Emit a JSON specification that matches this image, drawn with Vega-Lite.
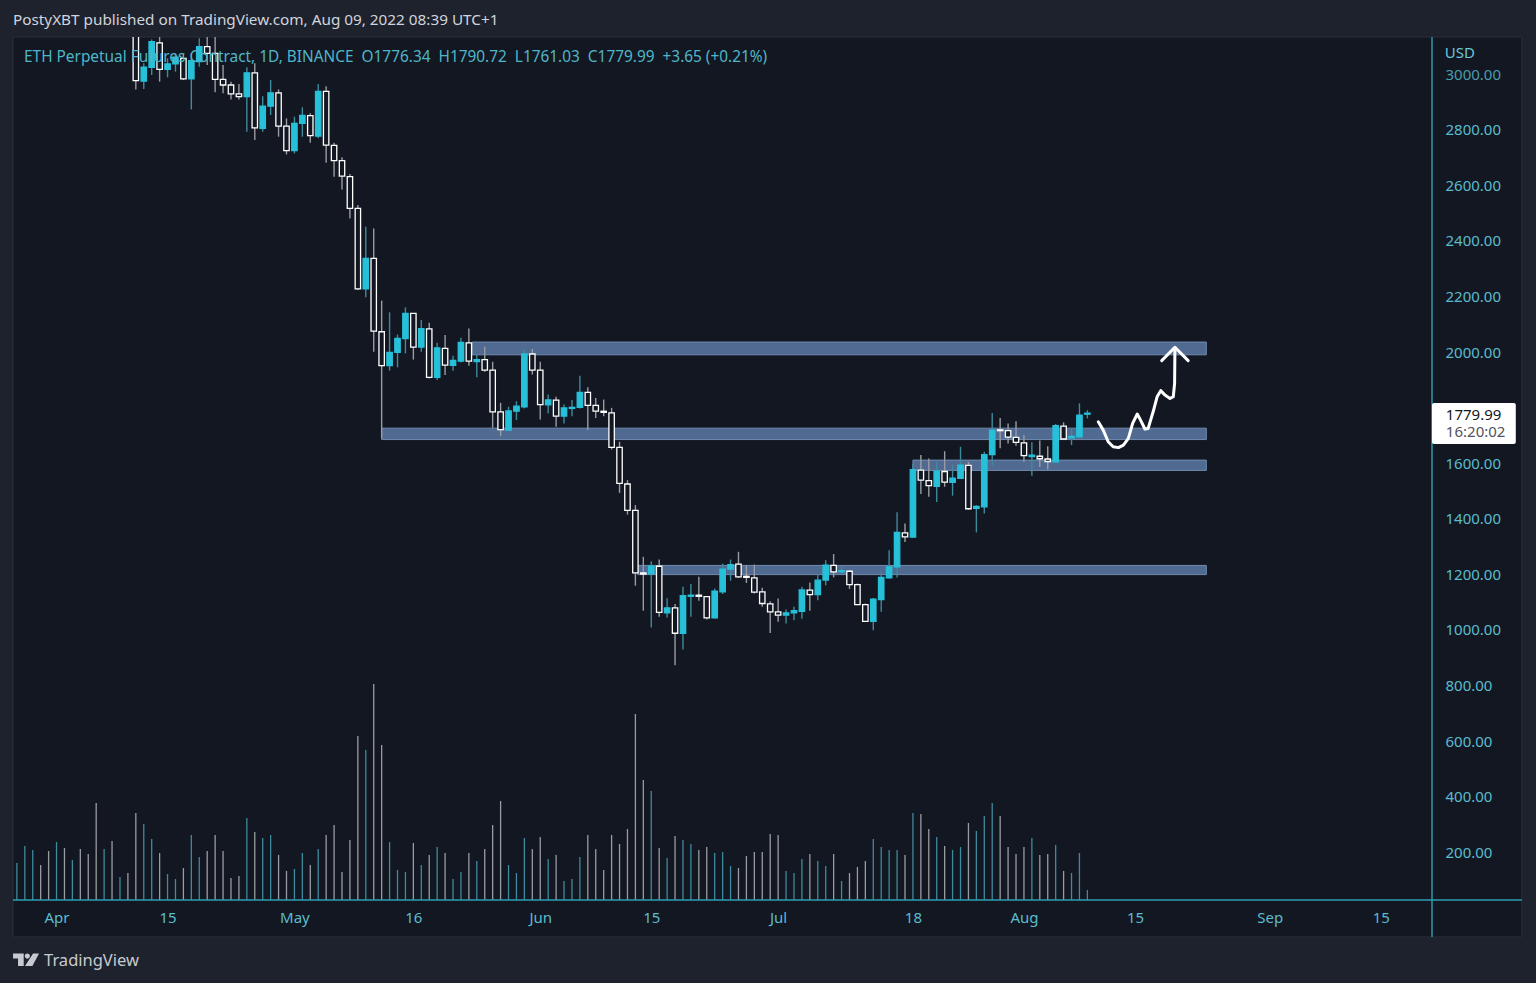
{
  "$schema": "https://vega.github.io/schema/vega-lite/v6.json",
  "width": 1419,
  "height": 863,
  "autosize": {"type": "none"},
  "padding": {"left": 13, "top": 37, "right": 104, "bottom": 83},
  "background": "#1e222d",
  "view": {"stroke": null},
  "config": {"font": "Noto Sans"},
  "datasets": {
    "candles": [
      {"date":"2022-03-27","open":3150,"high":3300,"low":3145,"close":3290,"volume":37,"dir":"up"},
      {"date":"2022-03-28","open":3290,"high":3480,"low":3280,"close":3330,"volume":54,"dir":"up"},
      {"date":"2022-03-29","open":3330,"high":3440,"low":3320,"close":3400,"volume":50,"dir":"up"},
      {"date":"2022-03-30","open":3400,"high":3440,"low":3340,"close":3385,"volume":35,"dir":"down"},
      {"date":"2022-03-31","open":3385,"high":3440,"low":3270,"close":3280,"volume":49,"dir":"down"},
      {"date":"2022-04-01","open":3280,"high":3480,"low":3210,"close":3455,"volume":58,"dir":"up"},
      {"date":"2022-04-02","open":3455,"high":3530,"low":3430,"close":3445,"volume":52,"dir":"down"},
      {"date":"2022-04-03","open":3445,"high":3570,"low":3420,"close":3520,"volume":40,"dir":"up"},
      {"date":"2022-04-04","open":3520,"high":3540,"low":3400,"close":3510,"volume":51,"dir":"down"},
      {"date":"2022-04-05","open":3510,"high":3550,"low":3400,"close":3410,"volume":46,"dir":"down"},
      {"date":"2022-04-06","open":3410,"high":3420,"low":3150,"close":3170,"volume":97,"dir":"down"},
      {"date":"2022-04-07","open":3170,"high":3290,"low":3160,"close":3230,"volume":51,"dir":"up"},
      {"date":"2022-04-08","open":3230,"high":3300,"low":3180,"close":3190,"volume":59,"dir":"down"},
      {"date":"2022-04-09","open":3190,"high":3270,"low":3185,"close":3260,"volume":23,"dir":"up"},
      {"date":"2022-04-10","open":3260,"high":3300,"low":3185,"close":3200,"volume":27,"dir":"down"},
      {"date":"2022-04-11","open":3200,"high":3210,"low":2945,"close":2977,"volume":87,"dir":"down"},
      {"date":"2022-04-12","open":2975,"high":3039,"low":2947,"close":3025,"volume":76,"dir":"up"},
      {"date":"2022-04-13","open":3025,"high":3125,"low":2997,"close":3117,"volume":61,"dir":"up"},
      {"date":"2022-04-14","open":3113,"high":3145,"low":2973,"close":3017,"volume":47,"dir":"down"},
      {"date":"2022-04-15","open":3017,"high":3057,"low":2989,"close":3037,"volume":26,"dir":"up"},
      {"date":"2022-04-16","open":3037,"high":3075,"low":3009,"close":3061,"volume":21,"dir":"up"},
      {"date":"2022-04-17","open":3057,"high":3073,"low":2979,"close":2983,"volume":32,"dir":"down"},
      {"date":"2022-04-18","open":2983,"high":3075,"low":2873,"close":3049,"volume":65,"dir":"up"},
      {"date":"2022-04-19","open":3045,"high":3129,"low":3027,"close":3099,"volume":43,"dir":"up"},
      {"date":"2022-04-20","open":3099,"high":3180,"low":3033,"close":3075,"volume":49,"dir":"down"},
      {"date":"2022-04-21","open":3075,"high":3180,"low":2935,"close":2981,"volume":65,"dir":"down"},
      {"date":"2022-04-22","open":2981,"high":3033,"low":2931,"close":2961,"volume":49,"dir":"down"},
      {"date":"2022-04-23","open":2961,"high":2973,"low":2909,"close":2929,"volume":22,"dir":"down"},
      {"date":"2022-04-24","open":2929,"high":2965,"low":2909,"close":2919,"volume":24,"dir":"down"},
      {"date":"2022-04-25","open":2919,"high":3025,"low":2793,"close":3005,"volume":82,"dir":"up"},
      {"date":"2022-04-26","open":3005,"high":3039,"low":2763,"close":2807,"volume":68,"dir":"down"},
      {"date":"2022-04-27","open":2805,"high":2921,"low":2793,"close":2885,"volume":62,"dir":"up"},
      {"date":"2022-04-28","open":2885,"high":2979,"low":2853,"close":2933,"volume":65,"dir":"up"},
      {"date":"2022-04-29","open":2933,"high":2945,"low":2775,"close":2813,"volume":45,"dir":"down"},
      {"date":"2022-04-30","open":2813,"high":2841,"low":2711,"close":2725,"volume":29,"dir":"down"},
      {"date":"2022-05-01","open":2725,"high":2847,"low":2715,"close":2823,"volume":31,"dir":"up"},
      {"date":"2022-05-02","open":2823,"high":2881,"low":2775,"close":2852,"volume":47,"dir":"up"},
      {"date":"2022-05-03","open":2851,"high":2859,"low":2753,"close":2779,"volume":35,"dir":"down"},
      {"date":"2022-05-04","open":2777,"high":2965,"low":2769,"close":2938,"volume":51,"dir":"up"},
      {"date":"2022-05-05","open":2938,"high":2957,"low":2681,"close":2745,"volume":65,"dir":"down"},
      {"date":"2022-05-06","open":2744,"high":2753,"low":2631,"close":2689,"volume":75,"dir":"down"},
      {"date":"2022-05-07","open":2689,"high":2701,"low":2585,"close":2633,"volume":28,"dir":"down"},
      {"date":"2022-05-08","open":2631,"high":2641,"low":2481,"close":2517,"volume":60,"dir":"down"},
      {"date":"2022-05-09","open":2517,"high":2529,"low":2223,"close":2227,"volume":164,"dir":"down"},
      {"date":"2022-05-10","open":2227,"high":2451,"low":2197,"close":2337,"volume":150,"dir":"up"},
      {"date":"2022-05-11","open":2337,"high":2445,"low":2001,"close":2075,"volume":216,"dir":"down"},
      {"date":"2022-05-12","open":2073,"high":2185,"low":1689,"close":1951,"volume":155,"dir":"down"},
      {"date":"2022-05-13","open":1951,"high":2143,"low":1933,"close":1999,"volume":58,"dir":"up"},
      {"date":"2022-05-14","open":1999,"high":2063,"low":1945,"close":2049,"volume":30,"dir":"up"},
      {"date":"2022-05-15","open":2048,"high":2161,"low":1995,"close":2139,"volume":28,"dir":"up"},
      {"date":"2022-05-16","open":2139,"high":2139,"low":1973,"close":2018,"volume":57,"dir":"down"},
      {"date":"2022-05-17","open":2018,"high":2115,"low":2001,"close":2084,"volume":35,"dir":"up"},
      {"date":"2022-05-18","open":2083,"high":2105,"low":1905,"close":1909,"volume":45,"dir":"down"},
      {"date":"2022-05-19","open":1909,"high":2033,"low":1899,"close":2015,"volume":53,"dir":"up"},
      {"date":"2022-05-20","open":2013,"high":2061,"low":1917,"close":1953,"volume":47,"dir":"down"},
      {"date":"2022-05-21","open":1952,"high":1987,"low":1933,"close":1970,"volume":21,"dir":"up"},
      {"date":"2022-05-22","open":1967,"high":2051,"low":1962,"close":2035,"volume":28,"dir":"up"},
      {"date":"2022-05-23","open":2033,"high":2085,"low":1951,"close":1967,"volume":47,"dir":"down"},
      {"date":"2022-05-24","open":1966,"high":1989,"low":1909,"close":1973,"volume":39,"dir":"up"},
      {"date":"2022-05-25","open":1973,"high":2019,"low":1929,"close":1935,"volume":51,"dir":"down"},
      {"date":"2022-05-26","open":1935,"high":1965,"low":1727,"close":1785,"volume":75,"dir":"down"},
      {"date":"2022-05-27","open":1785,"high":1817,"low":1697,"close":1721,"volume":99,"dir":"down"},
      {"date":"2022-05-28","open":1719,"high":1803,"low":1717,"close":1788,"volume":35,"dir":"up"},
      {"date":"2022-05-29","open":1787,"high":1823,"low":1755,"close":1805,"volume":27,"dir":"up"},
      {"date":"2022-05-30","open":1803,"high":2009,"low":1797,"close":1993,"volume":62,"dir":"up"},
      {"date":"2022-05-31","open":1993,"high":2011,"low":1919,"close":1935,"volume":51,"dir":"down"},
      {"date":"2022-06-01","open":1935,"high":1965,"low":1757,"close":1811,"volume":63,"dir":"down"},
      {"date":"2022-06-02","open":1810,"high":1847,"low":1779,"close":1828,"volume":41,"dir":"up"},
      {"date":"2022-06-03","open":1827,"high":1839,"low":1731,"close":1769,"volume":45,"dir":"down"},
      {"date":"2022-06-04","open":1769,"high":1811,"low":1743,"close":1799,"volume":19,"dir":"up"},
      {"date":"2022-06-05","open":1797,"high":1827,"low":1769,"close":1801,"volume":21,"dir":"up"},
      {"date":"2022-06-06","open":1801,"high":1915,"low":1797,"close":1855,"volume":43,"dir":"up"},
      {"date":"2022-06-07","open":1855,"high":1873,"low":1719,"close":1808,"volume":65,"dir":"down"},
      {"date":"2022-06-08","open":1808,"high":1835,"low":1763,"close":1787,"volume":51,"dir":"down"},
      {"date":"2022-06-09","open":1787,"high":1829,"low":1769,"close":1783,"volume":30,"dir":"down"},
      {"date":"2022-06-10","open":1781,"high":1799,"low":1649,"close":1657,"volume":65,"dir":"down"},
      {"date":"2022-06-11","open":1657,"high":1677,"low":1493,"close":1527,"volume":56,"dir":"down"},
      {"date":"2022-06-12","open":1525,"high":1539,"low":1415,"close":1430,"volume":71,"dir":"down"},
      {"date":"2022-06-13","open":1430,"high":1449,"low":1159,"close":1205,"volume":186,"dir":"down"},
      {"date":"2022-06-14","open":1205,"high":1263,"low":1069,"close":1201,"volume":120,"dir":"down"},
      {"date":"2022-06-15","open":1202,"high":1247,"low":1009,"close":1229,"volume":109,"dir":"up"},
      {"date":"2022-06-16","open":1229,"high":1253,"low":1047,"close":1063,"volume":52,"dir":"down"},
      {"date":"2022-06-17","open":1061,"high":1114,"low":1045,"close":1079,"volume":42,"dir":"up"},
      {"date":"2022-06-18","open":1079,"high":1093,"low":873,"close":988,"volume":64,"dir":"down"},
      {"date":"2022-06-19","open":988,"high":1155,"low":929,"close":1123,"volume":60,"dir":"up"},
      {"date":"2022-06-20","open":1121,"high":1165,"low":1047,"close":1125,"volume":56,"dir":"up"},
      {"date":"2022-06-21","open":1125,"high":1191,"low":1105,"close":1121,"volume":50,"dir":"down"},
      {"date":"2022-06-22","open":1120,"high":1122,"low":1037,"close":1043,"volume":53,"dir":"down"},
      {"date":"2022-06-23","open":1043,"high":1149,"low":1041,"close":1139,"volume":47,"dir":"up"},
      {"date":"2022-06-24","open":1137,"high":1239,"low":1129,"close":1219,"volume":48,"dir":"up"},
      {"date":"2022-06-25","open":1219,"high":1253,"low":1177,"close":1235,"volume":34,"dir":"up"},
      {"date":"2022-06-26","open":1237,"high":1281,"low":1187,"close":1191,"volume":32,"dir":"down"},
      {"date":"2022-06-27","open":1193,"high":1233,"low":1169,"close":1189,"volume":44,"dir":"down"},
      {"date":"2022-06-28","open":1187,"high":1235,"low":1131,"close":1136,"volume":48,"dir":"down"},
      {"date":"2022-06-29","open":1137,"high":1152,"low":1083,"close":1095,"volume":48,"dir":"down"},
      {"date":"2022-06-30","open":1094,"high":1103,"low":989,"close":1065,"volume":66,"dir":"down"},
      {"date":"2022-07-01","open":1065,"high":1113,"low":1029,"close":1053,"volume":65,"dir":"down"},
      {"date":"2022-07-02","open":1053,"high":1073,"low":1023,"close":1061,"volume":29,"dir":"up"},
      {"date":"2022-07-03","open":1061,"high":1083,"low":1035,"close":1069,"volume":27,"dir":"up"},
      {"date":"2022-07-04","open":1067,"high":1155,"low":1040,"close":1144,"volume":41,"dir":"up"},
      {"date":"2022-07-05","open":1143,"high":1171,"low":1069,"close":1127,"volume":46,"dir":"down"},
      {"date":"2022-07-06","open":1127,"high":1201,"low":1107,"close":1179,"volume":39,"dir":"up"},
      {"date":"2022-07-07","open":1179,"high":1251,"low":1161,"close":1233,"volume":34,"dir":"up"},
      {"date":"2022-07-08","open":1232,"high":1273,"low":1189,"close":1209,"volume":46,"dir":"down"},
      {"date":"2022-07-09","open":1209,"high":1227,"low":1201,"close":1213,"volume":19,"dir":"up"},
      {"date":"2022-07-10","open":1211,"high":1215,"low":1147,"close":1163,"volume":27,"dir":"down"},
      {"date":"2022-07-11","open":1163,"high":1167,"low":1089,"close":1091,"volume":33,"dir":"down"},
      {"date":"2022-07-12","open":1091,"high":1095,"low":1029,"close":1031,"volume":39,"dir":"down"},
      {"date":"2022-07-13","open":1031,"high":1115,"low":999,"close":1111,"volume":61,"dir":"up"},
      {"date":"2022-07-14","open":1109,"high":1209,"low":1065,"close":1189,"volume":53,"dir":"up"},
      {"date":"2022-07-15","open":1187,"high":1287,"low":1185,"close":1227,"volume":50,"dir":"up"},
      {"date":"2022-07-16","open":1227,"high":1423,"low":1189,"close":1351,"volume":50,"dir":"up"},
      {"date":"2022-07-17","open":1349,"high":1383,"low":1316,"close":1335,"volume":45,"dir":"down"},
      {"date":"2022-07-18","open":1334,"high":1597,"low":1332,"close":1577,"volume":87,"dir":"up"},
      {"date":"2022-07-19","open":1575,"high":1629,"low":1489,"close":1539,"volume":86,"dir":"down"},
      {"date":"2022-07-20","open":1537,"high":1617,"low":1479,"close":1519,"volume":71,"dir":"down"},
      {"date":"2022-07-21","open":1517,"high":1605,"low":1460,"close":1571,"volume":63,"dir":"up"},
      {"date":"2022-07-22","open":1570,"high":1643,"low":1515,"close":1532,"volume":54,"dir":"down"},
      {"date":"2022-07-23","open":1531,"high":1593,"low":1483,"close":1546,"volume":50,"dir":"up"},
      {"date":"2022-07-24","open":1545,"high":1659,"low":1543,"close":1593,"volume":53,"dir":"up"},
      {"date":"2022-07-25","open":1592,"high":1605,"low":1433,"close":1436,"volume":77,"dir":"down"},
      {"date":"2022-07-26","open":1437,"high":1449,"low":1351,"close":1444,"volume":69,"dir":"up"},
      {"date":"2022-07-27","open":1443,"high":1641,"low":1419,"close":1631,"volume":84,"dir":"up"},
      {"date":"2022-07-28","open":1631,"high":1781,"low":1592,"close":1719,"volume":97,"dir":"up"},
      {"date":"2022-07-29","open":1720,"high":1763,"low":1654,"close":1717,"volume":84,"dir":"down"},
      {"date":"2022-07-30","open":1717,"high":1743,"low":1671,"close":1694,"volume":53,"dir":"down"},
      {"date":"2022-07-31","open":1693,"high":1751,"low":1663,"close":1675,"volume":46,"dir":"down"},
      {"date":"2022-08-01","open":1673,"high":1701,"low":1605,"close":1627,"volume":53,"dir":"down"},
      {"date":"2022-08-02","open":1624,"high":1675,"low":1555,"close":1629,"volume":62,"dir":"up"},
      {"date":"2022-08-03","open":1625,"high":1682,"low":1586,"close":1616,"volume":45,"dir":"down"},
      {"date":"2022-08-04","open":1615,"high":1661,"low":1577,"close":1606,"volume":46,"dir":"down"},
      {"date":"2022-08-05","open":1605,"high":1741,"low":1603,"close":1735,"volume":55,"dir":"up"},
      {"date":"2022-08-06","open":1733,"high":1747,"low":1684,"close":1687,"volume":29,"dir":"down"},
      {"date":"2022-08-07","open":1691,"high":1727,"low":1665,"close":1696,"volume":27,"dir":"up"},
      {"date":"2022-08-08","open":1695,"high":1815,"low":1691,"close":1773,"volume":47,"dir":"up"},
      {"date":"2022-08-09","open":1776.34,"high":1790.72,"low":1761.03,"close":1779.99,"volume":10,"dir":"up"}
    ]
  },
  "encoding": {
    "x": {
      "field": "date",
      "type": "temporal",
      "title": null,
      "scale": {"type": "utc", "padding": 0, "domain": ["2022-03-26T12:14:00Z", "2022-09-21T11:02:00Z"]},
      "axis": {
        "orient": "bottom",
        "zindex": 1,
        "grid": false,
        "domain": false,
        "ticks": false,
        "labelPadding": 10,
        "labelFontSize": 15,
        "labelColor": "#5bbccd",
        "labelFlush": false,
        "labelOverlap": false,
        "values": ["2022-04-01", "2022-04-15", "2022-05-01", "2022-05-16", "2022-06-01", "2022-06-15", "2022-07-01", "2022-07-18", "2022-08-01", "2022-08-15", "2022-09-01", "2022-09-15"],
        "labelExpr": "utcdate(datum.value) == 1 ? utcFormat(datum.value, '%b') : utcFormat(datum.value, '%-d')"
      }
    }
  },
  "resolve": {"scale": {"y": "independent"}, "axis": {"y": "independent"}},
  "layer": [
    {
      "data": {"values": [{"date": "2022-03-26T12:14:00Z", "end": "2022-10-02T19:00:00Z", "top": 3133.8, "bottom": -105}], "format": {"parse": {"date": "date", "end": "date"}}},
      "mark": {"type": "rect", "fill": "#131722", "stroke": "#2a2e39", "strokeWidth": 1},
      "encoding": {
        "x2": {"field": "end"},
        "y": {"field": "top", "type": "quantitative", "axis": null, "scale": {"domain": [27.9, 3133.8]}},
        "y2": {"field": "bottom"}
      }
    },
    {
      "data": {"name": "candles", "format": {"parse": {"date": "date"}}},
      "mark": {"type": "bar", "size": 1.3},
      "encoding": {
        "y": {"field": "volume", "type": "quantitative", "axis": null, "scale": {"domain": [0, 863]}},
        "color": {"field": "dir", "type": "nominal", "legend": null, "scale": {"domain": ["up", "down"], "range": ["#3f8a9c", "#9a9ca3"]}}
      }
    },
    {
      "layer": [
        {
          "data": {"values": [
            {"date": "2022-05-23T10:00:00Z", "end": "2022-08-24T00:00:00Z", "top": 2036, "bottom": 1990},
            {"date": "2022-05-12T00:00:00Z", "end": "2022-08-24T00:00:00Z", "top": 1726, "bottom": 1685},
            {"date": "2022-07-18T00:00:00Z", "end": "2022-08-24T00:00:00Z", "top": 1611, "bottom": 1574},
            {"date": "2022-06-13T07:00:00Z", "end": "2022-08-24T00:00:00Z", "top": 1232, "bottom": 1199}
          ], "format": {"parse": {"date": "date", "end": "date"}}},
          "mark": {"type": "rect", "fill": "#506a92", "stroke": "#6f8bb0", "strokeWidth": 1},
          "encoding": {
            "x2": {"field": "end"},
            "y": {"field": "top", "type": "quantitative", "title": null, "scale": {"domain": [27.9, 3133.8]}, "axis": {
              "orient": "right",
              "zindex": 1,
              "grid": false,
              "domain": false,
              "ticks": false,
              "labelPadding": 13,
              "labelFontSize": 15,
              "labelAlign": "left",
              "labelOverlap": false,
              "labelFlush": false,
              "labelColor": {"condition": {"test": "datum.value == 3000", "value": "#4a9cab"}, "value": "#5bbccd"},
              "values": [200, 400, 600, 800, 1000, 1200, 1400, 1600, 1800, 2000, 2200, 2400, 2600, 2800, 3000],
              "labelExpr": "datum.value == 1800 ? '' : format(datum.value, '.2f')"
            }},
            "y2": {"field": "bottom"}
          }
        },
        {
          "data": {"name": "candles", "format": {"parse": {"date": "date"}}},
          "mark": {"type": "rule", "strokeWidth": 1.4, "clip": true},
          "encoding": {
            "y": {"field": "low", "type": "quantitative", "scale": {"domain": [27.9, 3133.8]}},
            "y2": {"field": "high"},
            "color": {"field": "dir", "type": "nominal", "legend": null, "scale": {"domain": ["up", "down"], "range": ["#26c0d8", "#ffffff"]}}
          }
        },
        {
          "data": {"name": "candles", "format": {"parse": {"date": "date"}}},
          "mark": {"type": "bar", "size": 5.4, "strokeWidth": 1.3, "clip": true},
          "encoding": {
            "y": {"field": "open", "type": "quantitative", "scale": {"domain": [27.9, 3133.8]}},
            "y2": {"field": "close"},
            "fill": {"field": "dir", "type": "nominal", "legend": null, "scale": {"domain": ["up", "down"], "range": ["#26c0d8", "#131722"]}},
            "stroke": {"field": "dir", "type": "nominal", "legend": null, "scale": {"domain": ["up", "down"], "range": ["#26c0d8", "#ffffff"]}}
          }
        },
        {
          "data": {"values": [
            {"date": "2022-08-10T09:00:00Z", "price": 1749, "part": "path", "seq": 1},
            {"date": "2022-08-11T00:00:00Z", "price": 1719, "part": "path", "seq": 2},
            {"date": "2022-08-11T15:00:00Z", "price": 1677, "part": "path", "seq": 3},
            {"date": "2022-08-12T06:00:00Z", "price": 1659, "part": "path", "seq": 4},
            {"date": "2022-08-12T22:00:00Z", "price": 1656, "part": "path", "seq": 5},
            {"date": "2022-08-13T13:00:00Z", "price": 1665, "part": "path", "seq": 6},
            {"date": "2022-08-14T04:00:00Z", "price": 1689, "part": "path", "seq": 7},
            {"date": "2022-08-14T17:00:00Z", "price": 1743, "part": "path", "seq": 8},
            {"date": "2022-08-15T07:00:00Z", "price": 1777, "part": "path", "seq": 9},
            {"date": "2022-08-15T17:00:00Z", "price": 1755, "part": "path", "seq": 10},
            {"date": "2022-08-16T06:00:00Z", "price": 1723, "part": "path", "seq": 11},
            {"date": "2022-08-16T16:00:00Z", "price": 1725, "part": "path", "seq": 12},
            {"date": "2022-08-17T07:00:00Z", "price": 1785, "part": "path", "seq": 13},
            {"date": "2022-08-17T19:00:00Z", "price": 1839, "part": "path", "seq": 14},
            {"date": "2022-08-18T06:00:00Z", "price": 1861, "part": "path", "seq": 15},
            {"date": "2022-08-18T19:00:00Z", "price": 1845, "part": "path", "seq": 16},
            {"date": "2022-08-19T10:00:00Z", "price": 1833, "part": "path", "seq": 17},
            {"date": "2022-08-19T20:00:00Z", "price": 1839, "part": "path", "seq": 18},
            {"date": "2022-08-20T00:00:00Z", "price": 1887, "part": "path", "seq": 19},
            {"date": "2022-08-20T01:00:00Z", "price": 2013, "part": "path", "seq": 20},
            {"date": "2022-08-18T09:00:00Z", "price": 1969, "part": "head", "seq": 1},
            {"date": "2022-08-20T01:00:00Z", "price": 2017, "part": "head", "seq": 2},
            {"date": "2022-08-21T17:00:00Z", "price": 1969, "part": "head", "seq": 3}
          ], "format": {"parse": {"date": "date"}}},
          "mark": {"type": "line", "color": "#ffffff", "strokeWidth": 3, "strokeCap": "round", "strokeJoin": "round"},
          "encoding": {
            "y": {"field": "price", "type": "quantitative", "scale": {"domain": [27.9, 3133.8]}},
            "detail": {"field": "part"},
            "order": {"field": "seq"}
          }
        },
        {
          "data": {"values": [{"date": "2022-03-26T12:14:00Z", "end": "2022-10-02T19:00:00Z", "price": 27.9}], "format": {"parse": {"date": "date", "end": "date"}}},
          "mark": {"type": "rule", "color": "#2b9fb2", "strokeWidth": 1.4},
          "encoding": {
            "x2": {"field": "end"},
            "y": {"field": "price", "type": "quantitative", "scale": {"domain": [27.9, 3133.8]}}
          }
        },
        {
          "data": {"values": [{"date": "2022-09-21T11:02:00Z", "top": 3133.8, "bottom": -105}], "format": {"parse": {"date": "date"}}},
          "mark": {"type": "rule", "color": "#2b9fb2", "strokeWidth": 1.4},
          "encoding": {
            "y": {"field": "top", "type": "quantitative", "scale": {"domain": [27.9, 3133.8]}},
            "y2": {"field": "bottom"}
          }
        },
        {
          "data": {"values": [{"date": "2022-09-21T11:02:00Z", "end": "2022-10-02T00:40:00Z", "top": 1817, "bottom": 1669}], "format": {"parse": {"date": "date", "end": "date"}}},
          "mark": {"type": "rect", "fill": "#ffffff", "cornerRadius": 2},
          "encoding": {
            "x2": {"field": "end"},
            "y": {"field": "top", "type": "quantitative", "scale": {"domain": [27.9, 3133.8]}},
            "y2": {"field": "bottom"}
          }
        },
        {
          "data": {"values": [{"date": "2022-09-23T05:00:00Z", "price": 1774, "label": "1779.99"}], "format": {"parse": {"date": "date"}}},
          "mark": {"type": "text", "align": "left", "baseline": "middle", "fontSize": 15, "color": "#131722"},
          "encoding": {
            "y": {"field": "price", "type": "quantitative", "scale": {"domain": [27.9, 3133.8]}},
            "text": {"field": "label"}
          }
        },
        {
          "data": {"values": [{"date": "2022-09-23T05:00:00Z", "price": 1712, "label": "16:20:02"}], "format": {"parse": {"date": "date"}}},
          "mark": {"type": "text", "align": "left", "baseline": "middle", "fontSize": 15, "color": "#50535e"},
          "encoding": {
            "y": {"field": "price", "type": "quantitative", "scale": {"domain": [27.9, 3133.8]}},
            "text": {"field": "label"}
          }
        },
        {
          "data": {"values": [
            {"date": "2022-09-23T02:00:00Z", "price": 3076, "label": "USD"}
          ], "format": {"parse": {"date": "date"}}},
          "mark": {"type": "text", "align": "left", "baseline": "middle", "fontSize": 15, "color": "#6ac8d8"},
          "encoding": {
            "y": {"field": "price", "type": "quantitative", "scale": {"domain": [27.9, 3133.8]}},
            "text": {"field": "label"}
          }
        },
        {
          "data": {"values": [
            {"date": "2022-03-27T21:36:00Z", "price": 3062, "label": "ETH Perpetual Futures Contract, 1D, BINANCE\u00a0\u00a0O1776.34\u00a0\u00a0H1790.72\u00a0\u00a0L1761.03\u00a0\u00a0C1779.99\u00a0\u00a0+3.65 (+0.21%)"}
          ], "format": {"parse": {"date": "date"}}},
          "mark": {"type": "text", "align": "left", "baseline": "middle", "fontSize": 15.4, "color": "#4fb6c8"},
          "encoding": {
            "y": {"field": "price", "type": "quantitative", "scale": {"domain": [27.9, 3133.8]}},
            "text": {"field": "label"}
          }
        },
        {
          "data": {"values": [
            {"date": "2022-03-26T12:14:00Z", "price": 3195, "label": "PostyXBT published on TradingView.com, Aug 09, 2022 08:39 UTC+1"}
          ], "format": {"parse": {"date": "date"}}},
          "mark": {"type": "text", "align": "left", "baseline": "middle", "fontSize": 15.3, "color": "#d1d4dc"},
          "encoding": {
            "y": {"field": "price", "type": "quantitative", "scale": {"domain": [27.9, 3133.8]}},
            "text": {"field": "label"}
          }
        },
        {
          "data": {"values": [
            {"date": "2022-03-30T10:10:00Z", "price": -191, "label": "TradingView"}
          ], "format": {"parse": {"date": "date"}}},
          "mark": {"type": "text", "align": "left", "baseline": "middle", "fontSize": 16.5, "color": "#c8cad0"},
          "encoding": {
            "y": {"field": "price", "type": "quantitative", "scale": {"domain": [27.9, 3133.8]}},
            "text": {"field": "label"}
          }
        },
        {
          "data": {"values": [
            {"date": "2022-03-28T03:42:00Z", "price": -186}
          ], "format": {"parse": {"date": "date"}}},
          "mark": {"type": "point", "filled": true, "opacity": 1, "color": "#c8cad0", "size": 676, "shape": "M-1,-.46H-.18V.51H-.615V-.08H-1ZM-.1,-.26A.2,.2 0 1 0 .3,-.26A.2,.2 0 1 0 -.1,-.26ZM.54,-.46H1L.49,.51H-.08Z"},
          "encoding": {
            "y": {"field": "price", "type": "quantitative", "scale": {"domain": [27.9, 3133.8]}}
          }
        }
      ]
    }
  ]
}
